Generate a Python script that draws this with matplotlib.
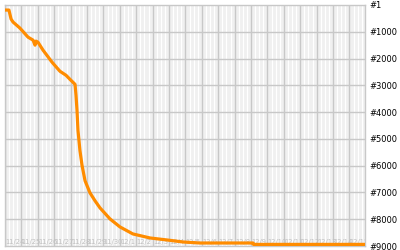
import matplotlib
matplotlib.use("Agg")
import matplotlib.pyplot as plt
import numpy as np

# data: days since 11/24 and rank
days = [0.0, 0.24, 0.37, 0.49, 0.91, 1.40, 1.71, 1.83, 1.89, 2.01, 2.32, 2.87,
        3.35, 3.72, 3.96, 4.27, 4.33, 4.39, 4.45, 4.57, 4.70, 4.88, 5.18, 5.49,
        5.79, 6.40, 7.01, 7.80, 8.84, 9.88, 10.85, 11.89, 15.12, 15.15, 21.95]
ranks = [190, 190, 525, 638, 863, 1200, 1313, 1500, 1350, 1390, 1688, 2138,
         2475, 2625, 2775, 2963, 3375, 3938, 4688, 5438, 6000, 6563, 7013, 7313,
         7575, 7988, 8288, 8550, 8700, 8775, 8850, 8888, 8888, 8940, 8940]
date_labels = ["11/24", "11/25", "11/26", "11/27", "11/28", "11/29", "11/30",
               "12/1", "12/2", "12/3", "12/4", "12/5", "12/6", "12/7", "12/8",
               "12/9", "12/10", "12/11", "12/12", "12/13", "12/14", "12/15"]
rank_ticks = [1, 1000, 2000, 3000, 4000, 5000, 6000, 7000, 8000, 9000]
rank_labels = ["#" + str(r) for r in rank_ticks]

fig = plt.figure(figsize=(4, 2.5), dpi=100)
ax = fig.add_axes([5/400, 1-246/250, 360/400, 241/250])
ax.set_facecolor("#f0f0f0")

xmax = 21.95
ax.set_xlim(0, xmax)
ax.set_ylim(9000, 1)

# white minor lines
for d in range(len(date_labels)):
    for f in (0.25, 0.5, 0.75):
        if d + f < xmax:
            ax.axvline(d + f, color="white", lw=0.9, zorder=1)
# gray major lines
for d in range(len(date_labels)):
    ax.axvline(d, color="#c8c8c8", lw=1.0, zorder=1.5)
for r in rank_ticks[1:-1]:
    ax.axhline(r, color="#c8c8c8", lw=1.0, zorder=1.5)

# date labels inside bottom
for d, lab in enumerate(date_labels):
    ax.text(d + 0.02, 8960, lab, color="#c0c0c0", fontsize=4.9,
            family="Liberation Sans Narrow", ha="left", va="bottom", zorder=2,
            clip_on=True)

ax.plot(days, ranks, color="#ff8c00", lw=2.3, zorder=3, solid_capstyle="butt")

ax.set_xticks([])
ax.yaxis.tick_right()
ax.set_yticks(rank_ticks)
ax.set_yticklabels(rank_labels, fontsize=6, color="black")
ax.tick_params(axis="y", length=0, pad=3)
for s in ax.spines.values():
    s.set_color("#c8c8c8")
    s.set_linewidth(1.0)

fig.savefig("out.png", dpi=100, facecolor="white")
